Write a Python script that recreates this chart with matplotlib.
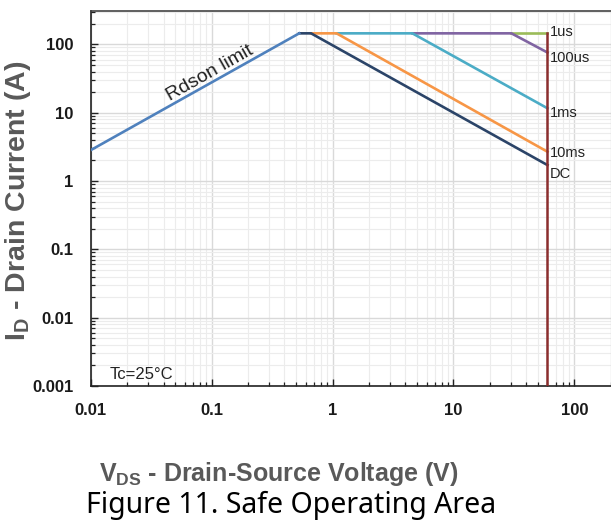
"""
Safe operating area chart (Figure 11)
"""
import matplotlib
matplotlib.use('Agg')
import matplotlib.pyplot as plt
import matplotlib.ticker as mticker

plt.rcParams['font.family'] = ['Liberation Sans', 'DejaVu Sans']
plt.rcParams['mathtext.default'] = 'regular'

BLUE = '#4F81BD'
NAVY = '#2B4468'
ORANGE = '#F79646'
AQUA = '#4BACC6'
PURPLE = '#8064A2'
GREEN = '#9BBB59'
DARKRED = '#8B2E2E'
GRAY_TXT = '#595959'

# ── data (V_DS in volts, I_D in amps) ──
vds_max = 60
i_peak = 145

rdson_v = [0.01, 0.53]
rdson_i = [2.83, i_peak]

dc_v = [0.53, 0.665, vds_max]
dc_i = [i_peak, i_peak, 1.71]

ms10_v = [0.665, 1.08, vds_max]
ms10_i = [i_peak, i_peak, 2.68]

ms1_v = [1.08, 4.58, vds_max]
ms1_i = [i_peak, i_peak, 11.6]

us100_v = [4.58, 30.2, vds_max]
us100_i = [i_peak, i_peak, 76]

us1_v = [30.2, vds_max]
us1_i = [i_peak, i_peak]

bv_v = [vds_max, vds_max]
bv_i = [i_peak, 0.001]

pulse_labels = ['1us', '100us', '1ms', '10ms', 'DC']
pulse_label_y = [150, 63, 10, 2.6, 1.26]

x_ticks = [0.01, 0.1, 1, 10, 100]
x_ticklabels = ['0.01', '0.1', '1', '10', '100']
y_ticks = [0.001, 0.01, 0.1, 1, 10, 100]
y_ticklabels = ['0.001', '0.01', '0.1', '1', '10', '100']

fig = plt.figure(figsize=(6.11, 5.28), dpi=100, facecolor='white')
ax = fig.add_axes([0.1485, 0.269, 0.851, 0.710])

ax.set_xscale('log')
ax.set_yscale('log')
ax.set_xlim(0.01, 200)
ax.set_ylim(0.001, 307)

# grid
ax.grid(which='major', color='#D9D9D9', linewidth=1.0, zorder=0)
ax.grid(which='minor', color='#ECECEC', linewidth=0.8, zorder=0)
ax.set_axisbelow(True)

# curves
lw = 1.9
ax.plot(us1_v, us1_i, color=GREEN, linewidth=lw, zorder=3)
ax.plot(us100_v, us100_i, color=PURPLE, linewidth=lw, zorder=3)
ax.plot(ms1_v, ms1_i, color=AQUA, linewidth=lw, zorder=3)
ax.plot(ms10_v, ms10_i, color=ORANGE, linewidth=lw, zorder=3)
ax.plot(dc_v, dc_i, color=NAVY, linewidth=lw, zorder=4)
ax.plot(rdson_v, rdson_i, color=BLUE, linewidth=lw, zorder=4)
ax.plot(bv_v, bv_i, color=DARKRED, linewidth=1.8, zorder=5)

for lab, y in zip(pulse_labels, pulse_label_y):
    ax.annotate(lab, xy=(vds_max, y), xytext=(1.5, 0), textcoords='offset points',
                ha='left', va='center', fontsize=10.5, color='#222222', zorder=6)

ax.text(0.104, 29.5, 'Rdson limit', fontsize=14, color='#222222',
        rotation=29.5, ha='center', va='bottom', rotation_mode='anchor')
ax.text(0.0143, 0.00125, 'Tc=25°C', fontsize=12, color='#222222',
        ha='left', va='baseline')

# ticks
ax.set_xticks(x_ticks)
ax.set_xticklabels(x_ticklabels)
ax.set_yticks(y_ticks)
ax.set_yticklabels(y_ticklabels)
ax.xaxis.set_minor_locator(mticker.LogLocator(base=10, subs=range(2, 10), numticks=20))
ax.yaxis.set_minor_locator(mticker.LogLocator(base=10, subs=range(2, 10), numticks=20))
ax.xaxis.set_minor_formatter(mticker.NullFormatter())
ax.yaxis.set_minor_formatter(mticker.NullFormatter())
ax.tick_params(which='major', direction='in', length=5, width=1, color='#222222',
               pad=12.5, labelsize=12)
ax.tick_params(which='minor', direction='in', length=3, width=0.9, color='#222222')
ax.tick_params(axis='x', which='both', top=False)
ax.tick_params(axis='y', which='both', right=False)
for lbl in ax.get_xticklabels() + ax.get_yticklabels():
    lbl.set_fontweight('bold')
    lbl.set_color('#1A1A1A')

for side in ['left', 'bottom']:
    ax.spines[side].set_color('#222222')
    ax.spines[side].set_linewidth(1.2)
ax.spines['top'].set_color('#444444')
ax.spines['top'].set_linewidth(1.2)
ax.spines['right'].set_color('#A6A6A6')

# axis titles and caption
fig.text(18 / 611, 1 - 201 / 528, 'I$_{D}$ - Drain Current (A)', rotation=90,
         ha='center', va='center', fontsize=20.5, fontweight='bold', color=GRAY_TXT)
fig.text(279 / 611, 1 - 481 / 528, 'V$_{DS}$ - Drain-Source Voltage (V)',
         ha='center', va='baseline', fontsize=18, fontweight='bold', color=GRAY_TXT)
fig.text(86 / 611, 1 - 513 / 528, 'Figure 11. Safe Operating Area',
         ha='left', va='baseline', fontsize=20.5, color='black',
         family=['Noto Sans', 'DejaVu Sans'])

plt.savefig('out.png', dpi=100, facecolor='white')
plt.close()
